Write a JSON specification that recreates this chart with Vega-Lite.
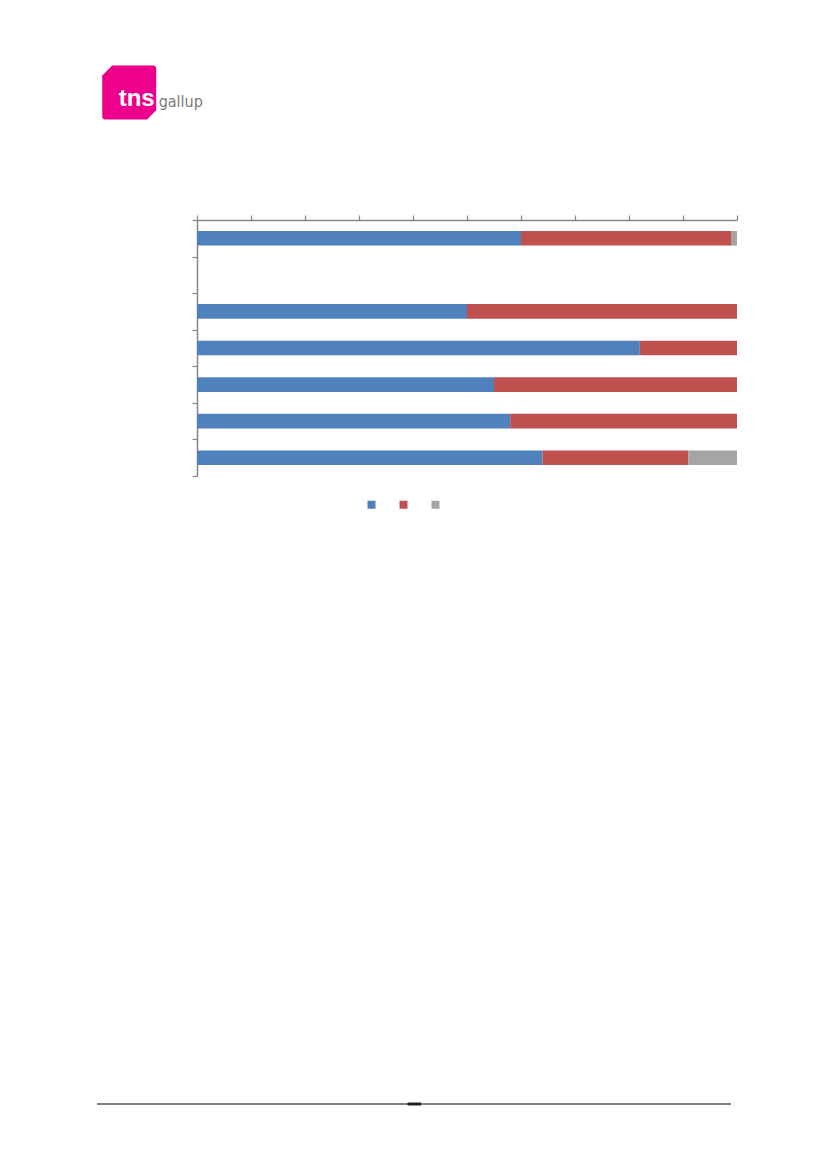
{
  "$schema": "https://vega.github.io/schema/vega-lite/v6.json",
  "autosize": {"type": "pad"},
  "padding": {"left": 96, "top": 65, "right": 5, "bottom": 5},
  "background": "white",
  "config": {"view": {"stroke": null}},
  "bounds": "flush",
  "spacing": 10,
  "resolve": {"legend": {"color": "independent"}, "scale": {"x": "independent", "y": "independent", "color": "independent"}},
  "vconcat": [
    {
      "width": 540,
      "height": 144,
      "data": {"values": [{}]},
      "layer": [
        {
          "mark": {"type": "point", "filled": true, "opacity": 1, "color": "#EC008C", "strokeWidth": 0, "size": 2916, "shape": "M-1,-0.63 L-0.63,-1 L0.88,-1 Q1,-1 1,-0.88 L1,0.66 L0.66,1 L-0.88,1 Q-1,1 -1,0.88 Z"},
          "encoding": {
            "x": {"datum": -12.55, "type": "quantitative", "scale": {"domain": [0, 100], "nice": false, "zero": false}, "axis": null},
            "y": {"datum": 117.5, "type": "quantitative", "scale": {"domain": [0, 144], "nice": false}, "axis": null}
          }
        },
        {
          "mark": {"type": "text", "text": "tns", "color": "white", "font": "Arial", "fontWeight": "bold", "fontSize": 24, "align": "left", "baseline": "alphabetic", "letterSpacing": 0.5},
          "encoding": {
            "x": {"datum": -14.5, "type": "quantitative"},
            "y": {"datum": 104, "type": "quantitative"}
          }
        },
        {
          "mark": {"type": "text", "text": "gallup", "color": "#7a7a7a", "font": "DejaVu Sans Condensed", "fontSize": 16, "align": "left", "baseline": "alphabetic"},
          "encoding": {
            "x": {"datum": -7.1, "type": "quantitative"},
            "y": {"datum": 103.3, "type": "quantitative"}
          }
        }
      ]
    },
    {
      "width": 540,
      "height": 256,
      "data": {
        "values": [
          {"row": "1", "series": "Serie 1", "pct": 60},
          {"row": "1", "series": "Serie 2", "pct": 39},
          {"row": "1", "series": "Serie 3", "pct": 1},
          {"row": "3", "series": "Serie 1", "pct": 50},
          {"row": "3", "series": "Serie 2", "pct": 50},
          {"row": "4", "series": "Serie 1", "pct": 82},
          {"row": "4", "series": "Serie 2", "pct": 18},
          {"row": "5", "series": "Serie 1", "pct": 55},
          {"row": "5", "series": "Serie 2", "pct": 45},
          {"row": "6", "series": "Serie 1", "pct": 58},
          {"row": "6", "series": "Serie 2", "pct": 42},
          {"row": "7", "series": "Serie 1", "pct": 64},
          {"row": "7", "series": "Serie 2", "pct": 27},
          {"row": "7", "series": "Serie 3", "pct": 9}
        ]
      },
      "mark": {"type": "bar", "height": {"band": 0.4}},
      "encoding": {
        "y": {
          "field": "row", "type": "nominal",
          "scale": {"domain": ["1", "2", "3", "4", "5", "6", "7"], "paddingInner": 0, "paddingOuter": 0},
          "axis": {"labels": false, "title": null, "tickBand": "extent", "tickSize": 5, "tickColor": "#868686", "domainColor": "#868686", "domainWidth": 1.5, "tickWidth": 1.2}
        },
        "x": {
          "field": "pct", "type": "quantitative", "stack": "zero",
          "scale": {"domain": [0, 100], "nice": false},
          "axis": {"orient": "top", "labels": false, "title": null, "grid": false, "values": [0, 10, 20, 30, 40, 50, 60, 70, 80, 90, 100], "tickSize": 5, "tickColor": "#868686", "domainColor": "#868686", "domainWidth": 1.5, "tickWidth": 1.2}
        },
        "color": {
          "field": "series", "type": "nominal",
          "scale": {"domain": ["Serie 1", "Serie 2", "Serie 3"], "range": ["#4F81BD", "#C0504D", "#A5A5A5"]},
          "legend": {"orient": "none", "legendX": 170, "legendY": 280, "direction": "horizontal", "title": null, "symbolType": "square", "symbolSize": 64, "symbolStrokeWidth": 0, "labelExpr": "datum.label == 'Serie 2' ? '\u2003' : ''", "labelFontSize": 9, "columnPadding": 19, "padding": 0}
        },
        "order": {"field": "series", "type": "nominal"}
      }
    },
    {
      "width": 540,
      "height": 618,
      "data": {"values": [{}]},
      "layer": [
        {
          "mark": {"type": "rule", "color": "#555555", "strokeWidth": 1.5},
          "encoding": {
            "x": {"datum": -18.5, "type": "quantitative", "scale": {"domain": [0, 100], "nice": false, "zero": false}, "axis": null},
            "x2": {"datum": 98.9},
            "y": {"datum": 0, "type": "quantitative", "scale": {"domain": [0, 1], "nice": false}, "axis": null}
          }
        },
        {
          "mark": {"type": "rule", "color": "#222222", "strokeWidth": 3},
          "encoding": {
            "x": {"datum": 39, "type": "quantitative"},
            "x2": {"datum": 41.5},
            "y": {"datum": 0, "type": "quantitative"}
          }
        }
      ]
    }
  ]
}
